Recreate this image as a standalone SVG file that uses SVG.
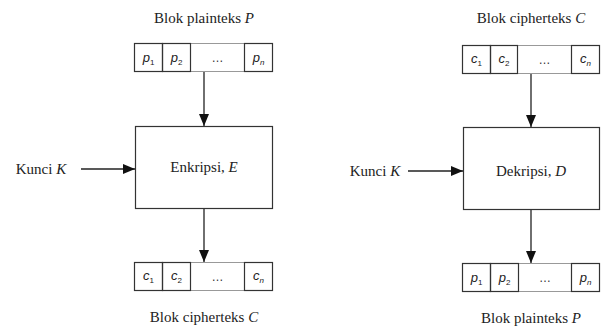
<svg xmlns="http://www.w3.org/2000/svg" width="602" height="326" viewBox="0 0 602 326">
<defs>
<marker id="ah" markerWidth="12" markerHeight="10" refX="12" refY="5" orient="auto" markerUnits="userSpaceOnUse">
<path d="M0,0 L12,5 L0,10 Z" fill="#111"/>
</marker>
<style>
.t{font-family:"Liberation Serif","Times New Roman",serif;font-size:15px;fill:#222}
.s{font-family:"Liberation Sans",Arial,sans-serif;font-size:13px;font-style:italic;fill:#222}
.d{font-family:"Liberation Sans",Arial,sans-serif;font-size:12px;fill:#333}
.sub{font-size:8px;font-style:normal}
.subi{font-size:8px;font-style:italic}
.box{fill:#fff;stroke:#333;stroke-width:1.2}
.outer{fill:#fff;stroke:#999;stroke-width:1}
.cell{fill:none;stroke:#333;stroke-width:1.2}
.ln{stroke:#222;stroke-width:1.3;fill:none}
.i{font-style:italic}
</style>
</defs>
<rect width="602" height="326" fill="#fff"/>

<g id="connectors">
<line class="ln" x1="204" y1="71" x2="204" y2="126" marker-end="url(#ah)"/>
<line class="ln" x1="81" y1="169" x2="135" y2="169" marker-end="url(#ah)"/>
<line class="ln" x1="204" y1="208" x2="204" y2="262" marker-end="url(#ah)"/>
<line class="ln" x1="531" y1="73" x2="531" y2="127" marker-end="url(#ah)"/>
<line class="ln" x1="408" y1="171" x2="463" y2="171" marker-end="url(#ah)"/>
<line class="ln" x1="531" y1="209" x2="531" y2="263" marker-end="url(#ah)"/>
</g>

<g id="title-plain-top"><text class="t" x="204" y="23" text-anchor="middle">Blok plainteks <tspan class="i">P</tspan></text></g>
<g id="block-plain-top">
<rect class="outer" x="134.5" y="43.5" width="138" height="28"/>
<rect class="cell" x="134.5" y="43.5" width="28" height="28"/>
<rect class="cell" x="162.5" y="43.5" width="28" height="28"/>
<rect class="cell" x="244.5" y="43.5" width="28" height="28"/>
<text class="s" x="148.5" y="62" text-anchor="middle">p<tspan class="sub" dy="3">1</tspan></text>
<text class="s" x="176.5" y="62" text-anchor="middle">p<tspan class="sub" dy="3">2</tspan></text>
<text class="d" x="217.5" y="62" text-anchor="middle">…</text>
<text class="s" x="258.5" y="62" text-anchor="middle">p<tspan class="subi" dy="3">n</tspan></text>
</g>
<g id="kunci-left"><text class="t" x="41" y="174" text-anchor="middle">Kunci <tspan class="i">K</tspan></text></g>
<g id="enkripsi">
<rect class="box" x="135.5" y="126.5" width="137" height="82"/>
<text class="t" x="204" y="172" text-anchor="middle">Enkripsi, <tspan class="i">E</tspan></text>
</g>
<g id="block-cipher-bottom">
<rect class="outer" x="134.5" y="262.5" width="138" height="28"/>
<rect class="cell" x="134.5" y="262.5" width="28" height="28"/>
<rect class="cell" x="162.5" y="262.5" width="28" height="28"/>
<rect class="cell" x="244.5" y="262.5" width="28" height="28"/>
<text class="s" x="148.5" y="280" text-anchor="middle">c<tspan class="sub" dy="3">1</tspan></text>
<text class="s" x="176.5" y="280" text-anchor="middle">c<tspan class="sub" dy="3">2</tspan></text>
<text class="d" x="217.5" y="281" text-anchor="middle">…</text>
<text class="s" x="258.5" y="280" text-anchor="middle">c<tspan class="subi" dy="3">n</tspan></text>
</g>
<g id="title-cipher-bottom"><text class="t" x="204" y="322" text-anchor="middle">Blok cipherteks <tspan class="i">C</tspan></text></g>

<g id="title-cipher-top"><text class="t" x="531" y="23" text-anchor="middle">Blok cipherteks <tspan class="i">C</tspan></text></g>
<g id="block-cipher-top">
<rect class="outer" x="462.5" y="45.5" width="137" height="28"/>
<rect class="cell" x="462.5" y="45.5" width="28" height="28"/>
<rect class="cell" x="490.5" y="45.5" width="27" height="28"/>
<rect class="cell" x="571.5" y="45.5" width="28" height="28"/>
<text class="s" x="476.5" y="63" text-anchor="middle">c<tspan class="sub" dy="3">1</tspan></text>
<text class="s" x="504" y="63" text-anchor="middle">c<tspan class="sub" dy="3">2</tspan></text>
<text class="d" x="544.5" y="64" text-anchor="middle">…</text>
<text class="s" x="585.5" y="63" text-anchor="middle">c<tspan class="subi" dy="3">n</tspan></text>
</g>
<g id="kunci-right"><text class="t" x="375" y="176" text-anchor="middle">Kunci <tspan class="i">K</tspan></text></g>
<g id="dekripsi">
<rect class="box" x="463.5" y="127.5" width="136" height="82"/>
<text class="t" x="531" y="176" text-anchor="middle">Dekripsi, <tspan class="i">D</tspan></text>
</g>
<g id="block-plain-bottom">
<rect class="outer" x="462.5" y="263.5" width="137" height="28"/>
<rect class="cell" x="462.5" y="263.5" width="28" height="28"/>
<rect class="cell" x="490.5" y="263.5" width="28" height="28"/>
<rect class="cell" x="571.5" y="263.5" width="28" height="28"/>
<text class="s" x="476.5" y="282" text-anchor="middle">p<tspan class="sub" dy="3">1</tspan></text>
<text class="s" x="504.5" y="282" text-anchor="middle">p<tspan class="sub" dy="3">2</tspan></text>
<text class="d" x="545" y="282" text-anchor="middle">…</text>
<text class="s" x="585.5" y="282" text-anchor="middle">p<tspan class="subi" dy="3">n</tspan></text>
</g>
<g id="title-plain-bottom"><text class="t" x="531" y="323" text-anchor="middle">Blok plainteks <tspan class="i">P</tspan></text></g>
</svg>
